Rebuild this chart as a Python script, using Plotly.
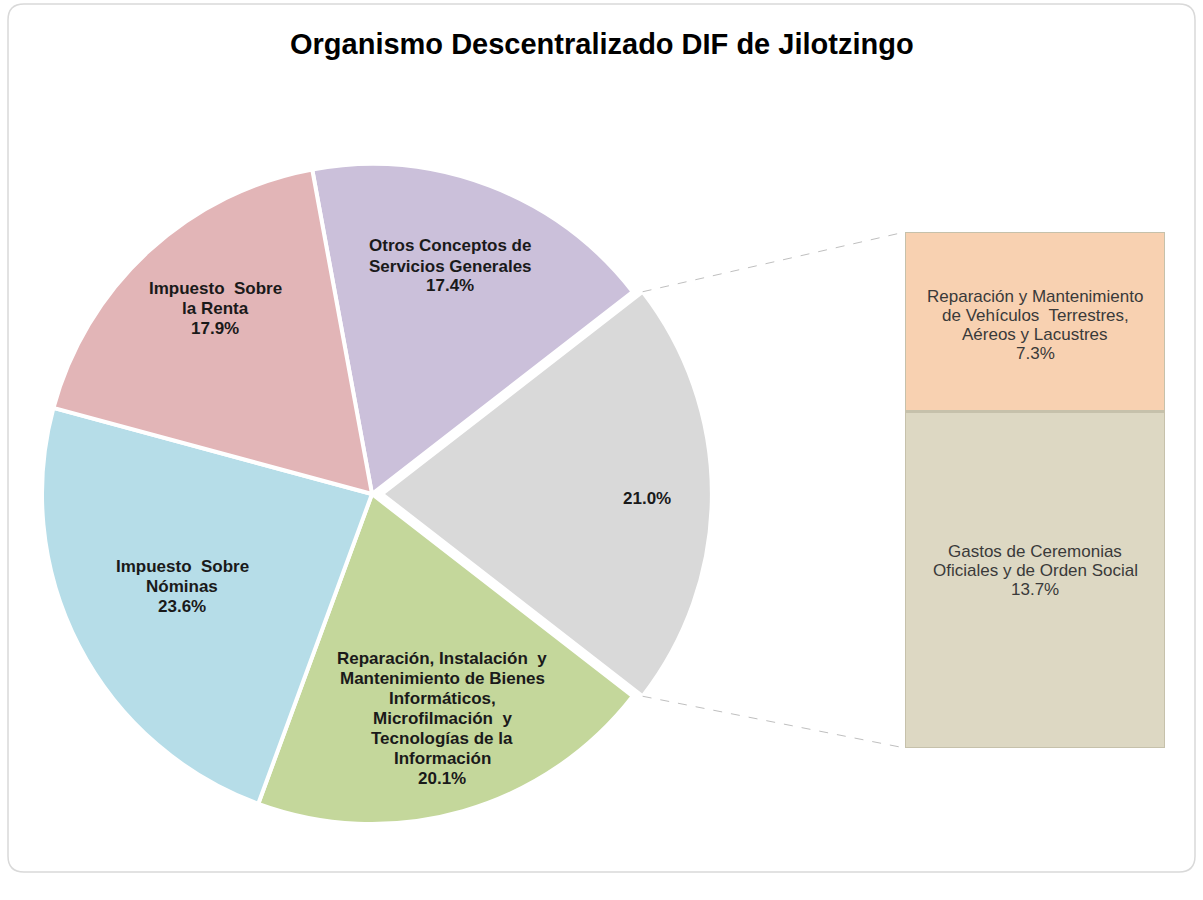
import plotly.graph_objects as go
import math

# ---- data ----
pie_labels = [
    "Otros Conceptos de<br>Servicios Generales",
    "Otros",
    "Reparación, Instalación  y<br>Mantenimiento de Bienes<br>Informáticos,<br>Microfilmación  y<br>Tecnologías de la<br>Información",
    "Impuesto  Sobre<br>Nóminas",
    "Impuesto  Sobre<br>la Renta",
]
pie_values = [17.4, 21.0, 20.1, 23.6, 17.9]
pie_colors = ["#CBC0DA", "#D9D9D9", "#C4D79B", "#B6DDE8", "#E2B5B7"]

bar_labels = [
    "Gastos de Ceremonias<br>Oficiales y de Orden Social",
    "Reparación y Mantenimiento<br>de Vehículos  Terrestres,<br>Aéreos y Lacustres",
]
bar_values = [13.7, 7.3]
bar_colors = ["#DDD8C3", "#F8D1B1"]

title = "Organismo Descentralizado DIF de Jilotzingo"

# ---- geometry ----
W, H = 1203, 900
CX, CY, R = 372, 494, 330     # pie centre / radius in px
PULL = 0.03
half = R * (1 + PULL)
BAR_X0, BAR_X1, BAR_TOP, BAR_BOT = 905, 1165, 232, 748
FONT = "Liberation Sans, Arial"

def px(x):
    return x / W

def py(y):
    return 1 - y / H

total = sum(pie_values)
rotation = 90 - (pie_values[0] + pie_values[1] / 2) / total * 360

fig = go.Figure()
fig.add_trace(go.Pie(
    labels=[l.replace("<br>", " ") for l in pie_labels],
    values=pie_values,
    sort=False,
    direction="clockwise",
    rotation=rotation,
    pull=[0, PULL, 0, 0, 0],
    marker=dict(colors=pie_colors, line=dict(color="white", width=4)),
    textinfo="none",
    hoverinfo="label+percent",
    showlegend=False,
    domain=dict(x=[px(CX - half), px(CX + half)], y=[py(CY + half), py(CY - half)]),
))

for lab, val, col in zip(bar_labels, bar_values, bar_colors):
    fig.add_trace(go.Bar(
        x=[0], y=[val], width=[1],
        marker=dict(color=col, line=dict(color="#C6C1AB", width=2.5)),
        hovertext=[f"{lab.replace('<br>', ' ')}: {val:.1f}%"],
        hoverinfo="text", showlegend=False,
        xaxis="x", yaxis="y",
    ))

fig.update_layout(
    barmode="stack",
    xaxis=dict(domain=[px(BAR_X0), px(BAR_X1)], range=[-0.5, 0.5], visible=False, fixedrange=True),
    yaxis=dict(domain=[py(BAR_BOT), py(BAR_TOP)], range=[0, sum(bar_values)], visible=False, fixedrange=True),
)

annotations = []

def add_block(lines, cx, cy, size, bold, color, spacing):
    n = len(lines)
    for i, ln in enumerate(lines):
        y = cy + (i - (n - 1) / 2) * spacing
        t = f"<b>{ln}</b>" if bold else ln
        annotations.append(dict(
            x=px(cx), y=py(y), xref="paper", yref="paper", text=t, showarrow=False,
            font=dict(family=FONT, size=size, color=color),
            xanchor="center", yanchor="middle",
        ))

# pie slice labels
pie_label_pos = [(450, 266), (647, 499), (442, 718), (182, 586), (215, 308)]
for lab, val, (x, y) in zip(pie_labels, pie_values, pie_label_pos):
    lines = ([] if lab == "Otros" else lab.split("<br>")) + [f"{val:.1f}%"]
    add_block(lines, x, y, 17, True, "#1A1A1A", 20)

# bar labels
bar_label_pos = [(1035, 570), (1035, 325)]
for lab, val, (x, y) in zip(bar_labels, bar_values, bar_label_pos):
    lines = lab.split("<br>") + [f"{val:.1f}%"]
    add_block(lines, x, y, 17, False, "#3A3A3A", 19)

annotations.append(dict(
    x=0.5, y=py(44), xref="paper", yref="paper", text=f"<b>{title}</b>", showarrow=False,
    font=dict(family=FONT, size=29, color="#000000"),
    xanchor="center", yanchor="middle",
))

# connector lines from the "Otros" slice edges to the bar corners
start = (pie_values[0]) / total * 360 + rotation
end = (pie_values[0] + pie_values[1]) / total * 360 + rotation
mid = (start + end) / 2
ox = PULL * R * math.sin(math.radians(mid))
oy = -PULL * R * math.cos(math.radians(mid))
shapes = []
for ang, by in ((start, BAR_TOP), (end, BAR_BOT)):
    sx = CX + R * math.sin(math.radians(ang)) + ox
    sy = CY - R * math.cos(math.radians(ang)) + oy
    shapes.append(dict(type="line", xref="paper", yref="paper",
                       x0=px(sx), y0=py(sy), x1=px(BAR_X0), y1=py(by),
                       line=dict(color="#BFBFBF", width=1, dash="dash")))

# outer rounded frame
fx0, fy0, fx1, fy1, rr = 8, 4, 1195, 872, 16
path = (f"M {px(fx0+rr)},{py(fy0)} L {px(fx1-rr)},{py(fy0)} Q {px(fx1)},{py(fy0)} {px(fx1)},{py(fy0+rr)} "
        f"L {px(fx1)},{py(fy1-rr)} Q {px(fx1)},{py(fy1)} {px(fx1-rr)},{py(fy1)} "
        f"L {px(fx0+rr)},{py(fy1)} Q {px(fx0)},{py(fy1)} {px(fx0)},{py(fy1-rr)} "
        f"L {px(fx0)},{py(fy0+rr)} Q {px(fx0)},{py(fy0)} {px(fx0+rr)},{py(fy0)} Z")
shapes.append(dict(type="path", xref="paper", yref="paper", path=path,
                   line=dict(color="#D9D9D9", width=1.5), layer="below"))

fig.update_layout(
    width=W, height=H,
    margin=dict(l=0, r=0, t=0, b=0),
    paper_bgcolor="white", plot_bgcolor="white",
    annotations=annotations, shapes=shapes,
    font=dict(family=FONT),
)

fig.write_html("out.html", config={"displayModeBar": False},
               post_script="document.body.style.margin='0';document.body.style.overflow='hidden';")
